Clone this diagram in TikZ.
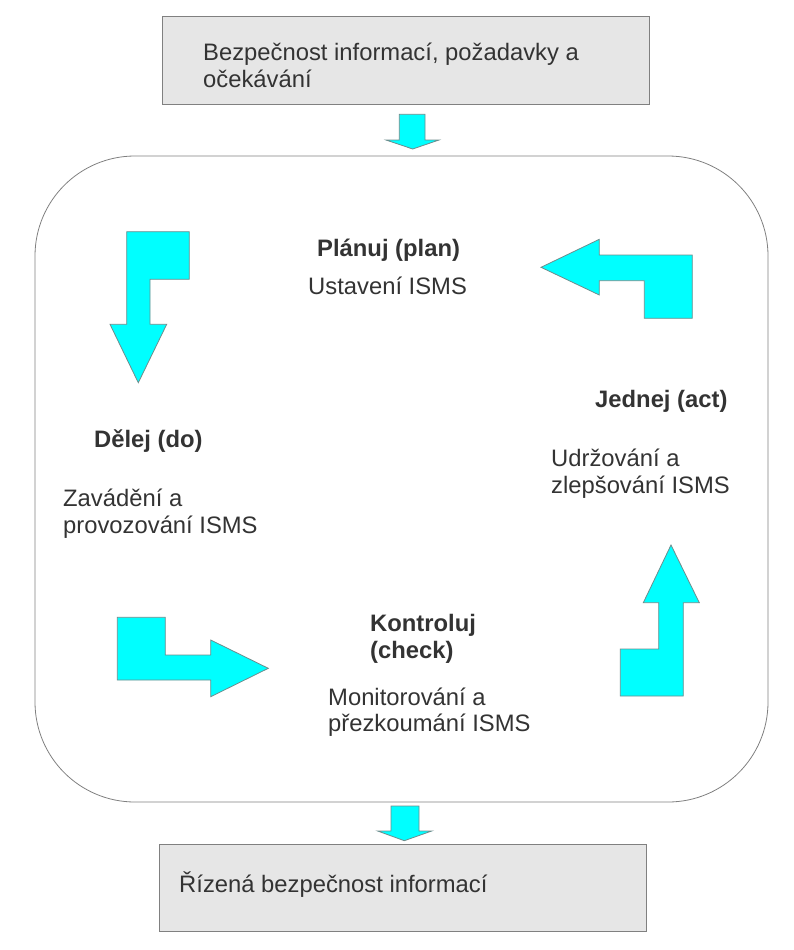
\documentclass[tikz,border=0pt]{standalone}
\usepackage{fontspec}
\setmainfont{Liberation Sans}
\begin{document}
\begin{tikzpicture}[x=1pt,y=-1pt,
  txt/.style={anchor=base west,inner sep=0pt,text=textgray,font=\fontsize{23.8}{27}\selectfont},
  btxt/.style={txt,font=\fontsize{23.8}{27}\selectfont\bfseries},
  arr/.style={fill=arrcyan,draw=arrborder,line width=0.8pt,line join=miter},
  gbox/.style={fill=boxgray,draw=boxborder,line width=1pt}]
\definecolor{textgray}{HTML}{333333}
\definecolor{arrcyan}{HTML}{00FFFF}
\definecolor{arrborder}{HTML}{6E8C8C}
\definecolor{boxgray}{HTML}{E6E6E6}
\definecolor{boxborder}{HTML}{808080}
\useasboundingbox (0,0) rectangle (794,950);
% boxes
\draw[gbox] (162,17) rectangle (649,104);
\draw[gbox] (159,844) rectangle (646,931);
\draw[draw=boxborder,line width=0.8pt,rounded corners=100pt] (35,156) rectangle (768,802);
% small arrows
\draw[arr] (399.3,114.3) -- (425,114.3) -- (425,140) -- (439,140) -- (412.7,149) -- (386,140) -- (399.3,140) -- cycle;
\draw[arr] (391,806) -- (419,806) -- (419,831) -- (431.7,831) -- (404.3,840.7) -- (377.7,831) -- (391,831) -- cycle;
% down arrow (plan -> do)
\draw[arr] (126.7,231.7) -- (189.3,231.7) -- (189.3,279.3) -- (150,279.3) -- (150,324.3) -- (166.7,324.3) -- (138.3,382.7) -- (110,324.3) -- (126.7,324.3) -- cycle;
% right arrow (do -> check)
\draw[arr] (117.3,617.3) -- (165.3,617.3) -- (165.3,655) -- (210.7,655) -- (210.7,640) -- (268.3,668.3) -- (210.7,696.7) -- (210.7,680) -- (117.3,680) -- cycle;
% up arrow (check -> act)
\draw[arr] (671,545) -- (699.3,602.7) -- (683.3,602.7) -- (683.3,696) -- (620.3,696) -- (620.3,649) -- (658.7,649) -- (658.7,602.7) -- (643.3,602.7) -- cycle;
% left arrow (act -> plan)
\draw[arr] (541,267.3) -- (599.3,239.3) -- (599.3,255) -- (692.3,255) -- (692.3,318.3) -- (644.3,318.3) -- (644.3,280.7) -- (599.3,280.7) -- (599.3,295) -- cycle;
% texts
\node[txt] (in1) at (203,60.5) {Bezpečnost informací, požadavky a};
\node[txt] (in2) at (203,87.5) {očekávání};
\node[btxt] (plan) at (317,256) {Plánuj (plan)};
\node[txt] (plan2) at (308,294.3) {Ustavení ISMS};
\node[btxt] (do) at (94,447) {Dělej (do)};
\node[txt] (do1) at (63,506.5) {Zavádění a};
\node[txt] (do2) at (63,533.5) {provozování ISMS};
\node[btxt] (act) at (595,407) {Jednej (act)};
\node[txt] (act1) at (551,466.5) {Udržování a};
\node[txt] (act2) at (551,493.5) {zlepšování ISMS};
\node[btxt] (chk1) at (370,631.7) {Kontroluj};
\node[btxt] (chk2) at (370,658.3) {(check)};
\node[txt] (chk3) at (328,705) {Monitorování a};
\node[txt] (chk4) at (328,731.7) {přezkoumání ISMS};
\node[txt] (out) at (179,892.5) {Řízená bezpečnost informací};
\end{tikzpicture}
\end{document}
